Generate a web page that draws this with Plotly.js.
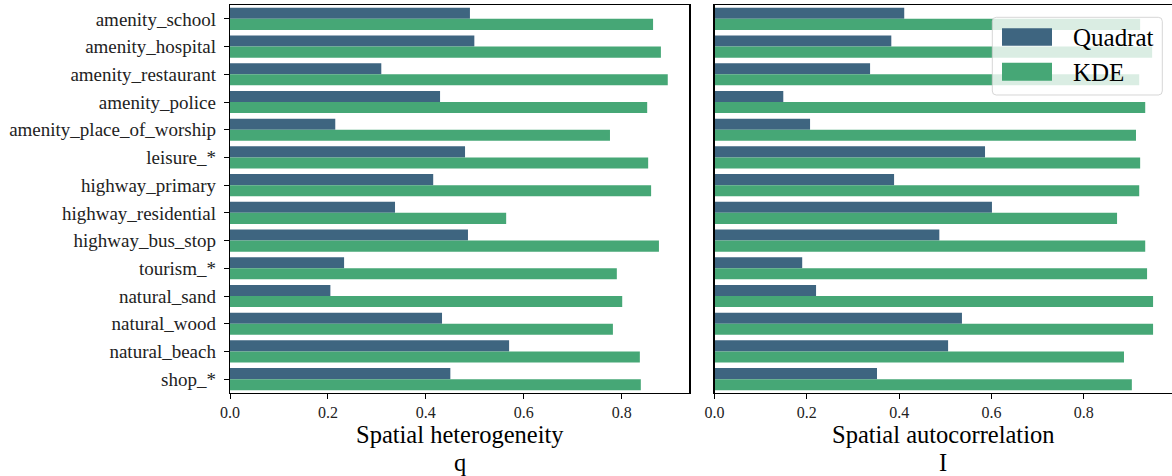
<!DOCTYPE html>
<html>
<head>
<meta charset="utf-8">
<script src="https://cdn.plot.ly/plotly-3.0.1.min.js"></script>
<style>html,body{margin:0;padding:0;background:#fff;} #chart{width:1172px;height:476px;}</style>
</head>
<body>
<div id="chart"></div>
<script>
const categories = ["amenity_school","amenity_hospital","amenity_restaurant","amenity_police","amenity_place_of_worship","leisure_*","highway_primary","highway_residential","highway_bus_stop","tourism_*","natural_sand","natural_wood","natural_beach","shop_*"];
const seriesNames = ["Quadrat", "KDE"];
const heteroQuadrat = [0.490,0.499,0.309,0.429,0.215,0.480,0.415,0.337,0.486,0.233,0.205,0.433,0.570,0.450];
const heteroKDE     = [0.864,0.880,0.894,0.852,0.776,0.854,0.860,0.564,0.876,0.790,0.801,0.782,0.837,0.839];
const autoQuadrat   = [0.411,0.383,0.337,0.149,0.207,0.586,0.389,0.601,0.487,0.190,0.220,0.536,0.506,0.352];
const autoKDE       = [0.922,0.948,0.920,0.933,0.913,0.922,0.920,0.872,0.933,0.937,0.950,0.950,0.887,0.904];
const xTickVals = [0, 0.2, 0.4, 0.6, 0.8];
const xTickText = ["0.0","0.2","0.4","0.6","0.8"];
const xTitles = ["Spatial heterogeneity", "Spatial autocorrelation"];
const xSubTitles = ["q", "I"];

const colQ = "#3e6580";
const colK = "#46a776";
const FONT = "'Liberation Serif', 'Times New Roman', serif";

function bar(x, name, color, xa, ya) {
  return {type: "bar", orientation: "h", x: x, y: categories, name: name,
          marker: {color: color, line: {width: 0}}, xaxis: xa, yaxis: ya, hoverinfo: "skip"};
}
const data = [
  bar(heteroQuadrat, seriesNames[0], colQ, "x", "y"),
  bar(heteroKDE, seriesNames[1], colK, "x", "y"),
  bar(autoQuadrat, seriesNames[0], colQ, "x2", "y2"),
  bar(autoKDE, seriesNames[1], colK, "x2", "y2")
];

const xCommon = {
  tickvals: xTickVals, ticktext: xTickText, showgrid: false, zeroline: false,
  showline: true, mirror: true, linecolor: "#000", linewidth: 1.2,
  ticks: "outside", ticklen: 5, tickwidth: 1, tickcolor: "#000",
  tickfont: {family: FONT, size: 16, color: "#222"}, fixedrange: true
};
const W = 1172, T = 5, B = 83, H = 476 - T - B;
function px2x(px) { return px / W; }
function py2y(py) { return (T + H - py) / H; }

// rounded legend frame (pixel geometry converted to paper coords)
function roundRect(x0p, y0p, x1p, y1p, r) {
  const X = px2x, Y = py2y;
  return "M" + X(x0p + r) + "," + Y(y0p) +
    " L" + X(x1p - r) + "," + Y(y0p) + " Q" + X(x1p) + "," + Y(y0p) + " " + X(x1p) + "," + Y(y0p + r) +
    " L" + X(x1p) + "," + Y(y1p - r) + " Q" + X(x1p) + "," + Y(y1p) + " " + X(x1p - r) + "," + Y(y1p) +
    " L" + X(x0p + r) + "," + Y(y1p) + " Q" + X(x0p) + "," + Y(y1p) + " " + X(x0p) + "," + Y(y1p - r) +
    " L" + X(x0p) + "," + Y(y0p + r) + " Q" + X(x0p) + "," + Y(y0p) + " " + X(x0p + r) + "," + Y(y0p) + " Z";
}
const titleFont = {family: FONT, size: 24.5, color: "#000"};
function label(xp, ybottom, text) {
  return {xref: "paper", yref: "paper", x: px2x(xp), y: py2y(ybottom), xanchor: "center", yanchor: "bottom",
          text: text, showarrow: false, borderpad: 0, font: titleFont};
}

const layout = {
  width: 1172, height: 476,
  margin: {l: 0, r: 0, t: T, b: B},
  paper_bgcolor: "#fff", plot_bgcolor: "#fff",
  barmode: "group", bargap: 0.2, bargroupgap: 0,
  showlegend: false, hovermode: false,
  font: {family: FONT, color: "#000"},
  xaxis: Object.assign({}, xCommon, {domain: [230/W, 689.3/W], range: [0, 0.938], anchor: "y"}),
  xaxis2: Object.assign({}, xCommon, {domain: [714.5/W, 1], range: [0, 0.991], anchor: "y2"}),
  yaxis: {type: "category", range: [13.5, -0.5], domain: [0, 1], anchor: "x",
    showgrid: false, zeroline: false, showline: true, mirror: true, linecolor: "#000", linewidth: 1.2,
    ticks: "outside", ticklen: 5, tickcolor: "#000", ticklabelstandoff: 4,
    tickfont: {family: FONT, size: 19, color: "#222"}, fixedrange: true},
  yaxis2: {type: "category", range: [13.5, -0.5], domain: [0, 1], anchor: "x2", matches: "y",
    showgrid: false, zeroline: false, showline: true, mirror: false, linecolor: "#000", linewidth: 1.2,
    ticks: "", showticklabels: false, fixedrange: true},
  shapes: [
    {type: "path", xref: "paper", yref: "paper", layer: "above",
     path: roundRect(992.3, 17.3, 1162.3, 95, 4),
     fillcolor: "rgba(255,255,255,0.8)", line: {color: "rgba(204,204,204,0.8)", width: 1}},
    {type: "rect", xref: "paper", yref: "paper", layer: "above",
     x0: px2x(1002), x1: px2x(1052), y0: py2y(45.7), y1: py2y(28.3),
     fillcolor: colQ, line: {width: 0}},
    {type: "rect", xref: "paper", yref: "paper", layer: "above",
     x0: px2x(1002), x1: px2x(1052), y0: py2y(80.7), y1: py2y(62.7),
     fillcolor: colK, line: {width: 0}}
  ],
  annotations: [
    {xref: "paper", yref: "paper", x: px2x(1071), y: py2y(37.5), xanchor: "left", yanchor: "middle",
     text: seriesNames[0], showarrow: false, font: {family: FONT, size: 25, color: "#000"}},
    {xref: "paper", yref: "paper", x: px2x(1071), y: py2y(72.5), xanchor: "left", yanchor: "middle",
     text: seriesNames[1], showarrow: false, font: {family: FONT, size: 25, color: "#000"}},
    label(459.6, 449, xTitles[0]),
    label(943.2, 449, xTitles[1]),
    label(459.6, 476.5, xSubTitles[0]),
    label(943.2, 476.5, xSubTitles[1])
  ]
};

Plotly.newPlot("chart", data, layout, {displayModeBar: false, staticPlot: true});
</script>
</body>
</html>
